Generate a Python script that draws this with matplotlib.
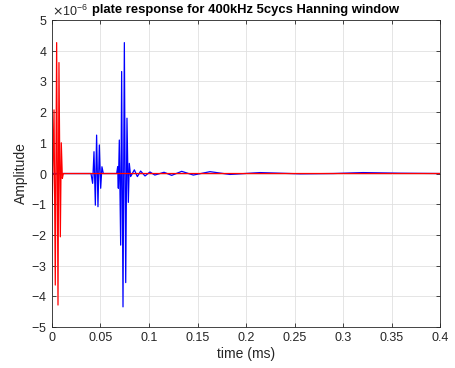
import matplotlib
matplotlib.use("Agg")
import matplotlib.pyplot as plt
from matplotlib.ticker import ScalarFormatter

plt.rcParams['font.family'] = ['Liberation Sans', 'DejaVu Sans']
plt.rcParams['axes.unicode_minus'] = False

# czas w ms, amplituda w jednostkach 1e-6
blue_t = [0.0, 0.0402, 0.0419, 0.0433, 0.0447, 0.0460, 0.0474, 0.0488, 0.0502, 0.0515, 0.0529,
          0.0667, 0.0677, 0.0684, 0.0694, 0.0708, 0.0718, 0.0732, 0.0746, 0.0760, 0.0773,
          0.0787, 0.0797, 0.0811, 0.0849, 0.0880, 0.0914, 0.0959, 0.101, 0.106, 0.1155,
          0.1234, 0.1337, 0.1457, 0.1629, 0.1835, 0.2144, 0.2557, 0.2900, 0.3206, 0.3590, 0.4]
blue_amp = [0.0, 0.0, -0.32, 0.71, -1.03, 1.25, -1.08, 0.93, -0.48, 0.22, 0.0,
            0.0, 0.22, -0.48, 1.09, -2.33, 3.32, -4.34, 4.26, -3.55, 1.80,
            -0.94, 0.33, -0.10, 0.12, -0.10, 0.08, -0.08, 0.05, -0.05, 0.04,
            -0.06, 0.07, -0.05, 0.06, -0.03, 0.03, -0.01, 0.0, 0.03, 0.01, 0.0]

red_t = [0.0, 0.0003, 0.0021, 0.0034, 0.0048, 0.0062, 0.0072, 0.0086, 0.0096, 0.0107, 0.0117, 0.4]
red_amp = [0.0, -0.97, 2.07, -3.63, 4.26, -4.28, 3.61, -2.06, 1.00, -0.16, 0.0, 0.0]

xticks = [0, 0.05, 0.1, 0.15, 0.2, 0.25, 0.3, 0.35, 0.4]
xticklabels = ['0', '0.05', '0.1', '0.15', '0.2', '0.25', '0.3', '0.35', '0.4']
yticks = [-5, -4, -3, -2, -1, 0, 1, 2, 3, 4, 5]

fig = plt.figure(figsize=(4.56, 3.68), dpi=100)
ax = fig.add_axes([0.114, 0.111, 0.851, 0.835])

ax.plot(blue_t, [v * 1e-6 for v in blue_amp], color='#0000ff', lw=0.9)
ax.plot(red_t, [v * 1e-6 for v in red_amp], color='#ff0000', lw=0.9)

ax.set_xlim(0, 0.4)
ax.set_ylim(-5e-6, 5e-6)
ax.set_xticks(xticks)
ax.set_xticklabels(xticklabels)
ax.set_yticks([v * 1e-6 for v in yticks])

fmt = ScalarFormatter(useMathText=True)
fmt.set_powerlimits((0, 0))
ax.yaxis.set_major_formatter(fmt)
ax.yaxis.get_offset_text().set_fontsize(9)
ax.yaxis.get_offset_text().set_color('#262626')

ax.grid(True, color='#e0e0e0', lw=0.6)
ax.set_axisbelow(True)
ax.tick_params(direction='in', top=True, right=True, labelsize=9,
               colors='#262626', length=3, width=0.6)
for s in ax.spines.values():
    s.set_color('#262626')
    s.set_linewidth(0.6)

# tytuł ręcznie, żeby nie uciekał nad offset text
ax.text(0.5, 1.012, 'plate response for 400kHz 5cycs Hanning window',
        transform=ax.transAxes, ha='center', va='bottom',
        fontsize=9.4, fontweight='bold', color='black')
ax.set_xlabel('time (ms)', fontsize=10, color='#262626', labelpad=2)
ax.set_ylabel('Amplitude', fontsize=10, color='#262626', labelpad=2)

fig.savefig('out.png', dpi=100)
